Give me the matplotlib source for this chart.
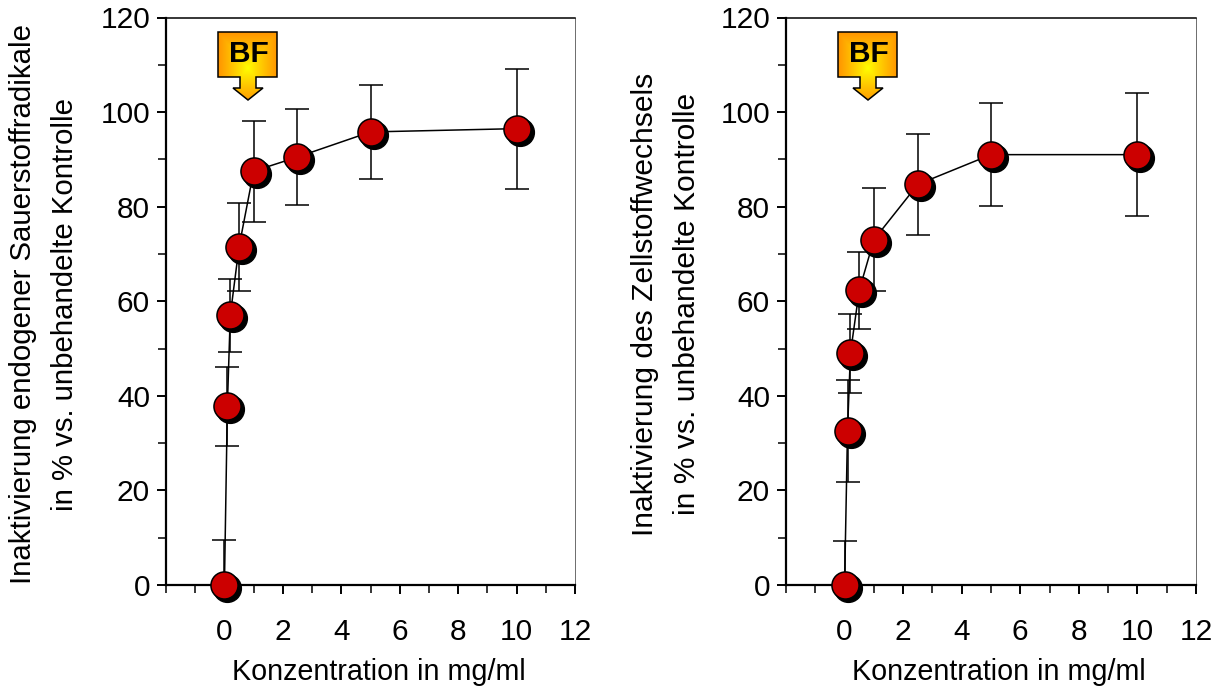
import numpy as np
import matplotlib
matplotlib.use("Agg")
import matplotlib.pyplot as plt
from matplotlib.patches import Polygon
from matplotlib.ticker import MultipleLocator

plt.rcParams['font.family'] = ['Liberation Sans', 'DejaVu Sans']

conc = [0, 0.1, 0.2, 0.5, 1, 2.5, 5, 10]
left_values = [0, 37.8, 57, 71.5, 87.5, 90.5, 95.8, 96.5]
left_lower = [0, 8.4, 7.7, 9.3, 10.7, 10.1, 10, 12.7]
left_upper = [9.6, 8.4, 7.7, 9.3, 10.7, 10.1, 10, 12.7]
right_values = [0, 32.5, 49, 62.3, 73, 84.7, 91, 91]
right_lower = [0, 10.8, 8.3, 8.2, 10.9, 10.6, 10.9, 13]
right_upper = [9.3, 10.8, 8.3, 8.2, 10.9, 10.6, 10.9, 13]
left_ylabel = "Inaktivierung endogener Sauerstoffradikale\nin % vs. unbehandelte Kontrolle"
right_ylabel = "Inaktivierung des Zellstoffwechsels\nin % vs. unbehandelte Kontrolle"
xlabel = "Konzentration in mg/ml"

W, H = 1224, 690
fig = plt.figure(figsize=(W / 100, H / 100), dpi=100)


def panel(x0, x1, vals, lower, upper, ylabel, label_x, label_size):
    ax = fig.add_axes([x0 / W, 1 - 585 / H, (x1 - x0) / W, (585 - 17.5) / H])
    ax.set_xlim(-2, 12)
    ax.set_ylim(0, 120)
    ax.yaxis.set_major_locator(MultipleLocator(20))
    ax.yaxis.set_minor_locator(MultipleLocator(10))
    ax.set_xticks([0, 2, 4, 6, 8, 10, 12])
    ax.xaxis.set_minor_locator(MultipleLocator(1))
    ax.tick_params(which='major', length=6.5, width=1.4, labelsize=21.5, direction='out')
    ax.tick_params(which='minor', length=5.5, width=1.1, direction='out')
    ax.tick_params(axis='x', which='major', pad=17)
    ax.tick_params(axis='y', which='major', pad=5)
    for s in ax.spines.values():
        s.set_linewidth(1.6)
    ax.spines['top'].set_linewidth(1.1)
    ax.spines['right'].set_linewidth(0.6)
    ax.spines['right'].set_color('#555555')
    ax.plot(conc, vals, color='black', lw=1.1, zorder=3, clip_on=False)
    ax.errorbar(conc, vals, yerr=[lower, upper], fmt='none', ecolor='black', elinewidth=1.1,
                capsize=8.5, capthick=1.1, zorder=2, clip_on=False)
    trans = ax.transData + matplotlib.transforms.ScaledTranslation(3 / 100, -3 / 100, fig.dpi_scale_trans)
    ax.plot(conc, vals, ls='none', marker='o', ms=20, color='black', transform=trans,
            zorder=4, clip_on=False)
    ax.plot(conc, vals, ls='none', marker='o', ms=19.5, mfc='#cc0000', mec='black', mew=1.1,
            zorder=5, clip_on=False)
    ax.set_xlabel(xlabel, fontsize=20.7)
    ax.xaxis.set_label_coords((x0 + 213) / W * W / (x1 - x0) - x0 / (x1 - x0), -87 / 567.5, transform=ax.transAxes)
    ax.xaxis.label.set_va('center')
    fig.text(label_x / W, 1 - 304 / H, ylabel, rotation=90, ha='center', va='center',
             fontsize=label_size, linespacing=1.6)
    return ax


panel(166, 575, left_values, left_lower, left_upper, left_ylabel, 44, 21.2)
panel(786, 1196, right_values, right_lower, right_upper, right_ylabel, 666, 21.6)

ov = fig.add_axes([0, 0, 1, 1], facecolor='none')
ov.set_xlim(0, W)
ov.set_ylim(H, 0)
ov.axis('off')


def callout(dx):
    l, r, t, b = 218 + dx, 277 + dx, 32, 77
    cx = (l + r) / 2 + 0.5
    pts = [(l, t), (r, t), (r, b), (cx + 8, b), (cx + 8, 88), (cx + 15, 88), (cx, 100),
           (cx - 15, 88), (cx - 8, 88), (cx - 8, b), (l, b)]
    yy, xx = np.mgrid[t:100:120j, l:r:120j]
    d = np.maximum(np.abs(xx - cx) / 30, np.abs(yy - 68) / 36)
    d = np.clip(d, 0, 1)
    rgb = np.dstack([np.ones_like(d), 1 - 0.42 * d ** 0.9, np.zeros_like(d)])
    im = ov.imshow(rgb, extent=[l, r, 100, t], aspect='auto', zorder=1)
    poly = Polygon(pts, closed=True, fc='none', ec='black', lw=1.1, zorder=2)
    ov.add_patch(poly)
    im.set_clip_path(poly)
    ov.text(cx + 1, 54, "BF", ha='center', va='center', fontsize=21.5, fontweight='bold', zorder=3)


callout(0)
callout(620)
ov.set_xlim(0, W)
ov.set_ylim(H, 0)

fig.savefig("out.png", dpi=100)
